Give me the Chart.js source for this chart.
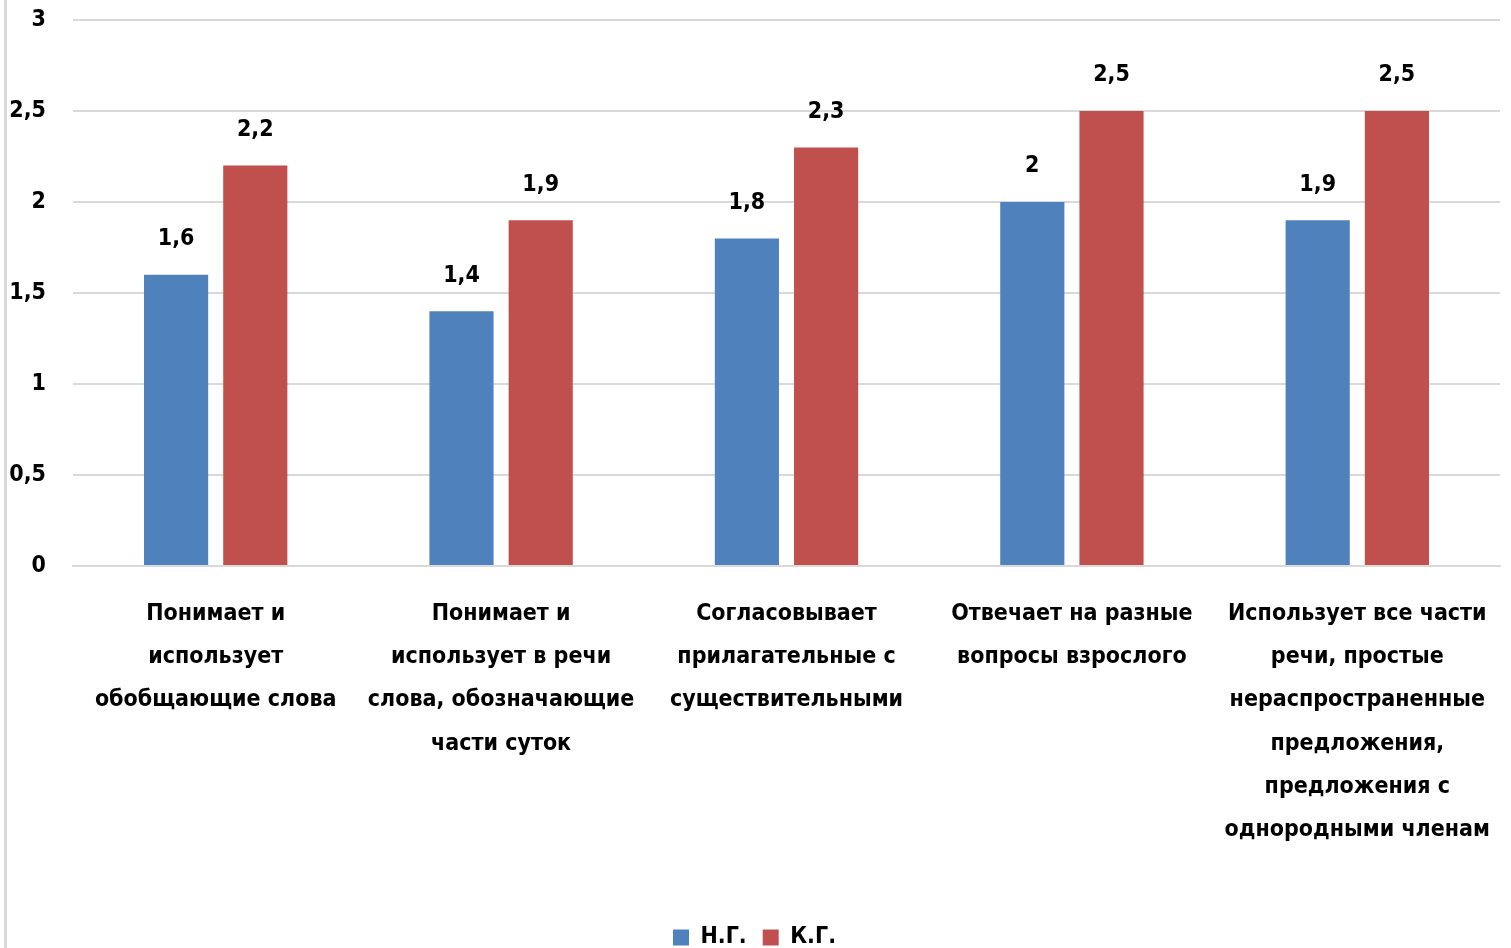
<!DOCTYPE html>
<html>
<head>
<meta charset="utf-8">
<script src="https://cdn.jsdelivr.net/npm/chart.js@4.4.1/dist/chart.umd.min.js"></script>
<style>
  html, body { margin: 0; padding: 0; background: #fff; }
  #wrap { position: relative; width: 1511px; height: 948px; }
  #edge { position: absolute; left: 4px; top: 0; width: 3px; height: 948px; background: #d9d9d9; }
</style>
</head>
<body>
<div id="wrap">
  <div id="edge"></div>
  <canvas id="chart" width="1511" height="948"></canvas>
</div>
<script>
const categories = [
  ['Понимает и', 'использует', 'обобщающие слова'],
  ['Понимает и', 'использует в речи', 'слова, обозначающие', 'части суток'],
  ['Согласовывает', 'прилагательные с', 'существительными'],
  ['Отвечает на разные', 'вопросы взрослого'],
  ['Использует все части', 'речи, простые', 'нераспространенные', 'предложения,', 'предложения с', 'однородными членам']
];
const seriesNames = ['Н.Г.', 'К.Г.'];
const ngValues = [1.6, 1.4, 1.8, 2, 1.9];
const kgValues = [2.2, 1.9, 2.3, 2.5, 2.5];
const yTicks = [0, 0.5, 1, 1.5, 2, 2.5, 3];

const FONT = '"Liberation Sans Narrow", "DejaVu Sans Condensed", "Open Sans", sans-serif';
const SIZE = 23;
const fmt = v => String(v).replace('.', ',');

// value labels above bars
const valueLabels = {
  id: 'valueLabels',
  afterDatasetsDraw(chart) {
    const ctx = chart.ctx;
    ctx.save();
    ctx.font = 'bold ' + SIZE + 'px ' + FONT;
    ctx.fillStyle = '#000';
    ctx.textAlign = 'center';
    ctx.textBaseline = 'bottom';
    chart.data.datasets.forEach((ds, i) => {
      chart.getDatasetMeta(i).data.forEach((bar, j) => {
        ctx.fillText(fmt(ds.data[j]), bar.x, bar.y - 24);
      });
    });
    ctx.restore();
  }
};

new Chart(document.getElementById('chart'), {
  type: 'bar',
  data: {
    labels: categories,
    datasets: [
      { label: seriesNames[0], data: ngValues, backgroundColor: '#4F81BD' },
      { label: seriesNames[1], data: kgValues, backgroundColor: '#C0504D' }
    ]
  },
  options: {
    responsive: false,
    animation: false,
    devicePixelRatio: 1,
    categoryPercentage: 0.555,
    barPercentage: 0.81,
    layout: { padding: { left: 9, right: 11, top: 20, bottom: -11 } },
    plugins: {
      legend: {
        position: 'bottom',
        labels: {
          color: '#000',
          font: { family: FONT, size: SIZE, weight: 'bold' },
          boxWidth: 16,
          boxHeight: 16,
          padding: 16
        }
      },
      tooltip: { enabled: false }
    },
    scales: {
      x: {
        grid: { display: false },
        border: { color: '#d9d9d9', width: 2 },
        afterFit: axis => { axis.paddingLeft = 0; axis.paddingRight = 0; axis.height = 344; },
        ticks: {
          color: '#000',
          font: { family: FONT, size: SIZE, weight: 'bold', lineHeight: 1.87 },
          padding: 19,
          maxRotation: 0,
          autoSkip: false
        }
      },
      y: {
        min: 0,
        max: 3,
        afterBuildTicks: axis => { axis.ticks = yTicks.map(v => ({ value: v })); },
        afterFit: axis => { axis.paddingTop = 14; axis.paddingBottom = 14; axis.width = 64; },
        grid: { color: '#d9d9d9', lineWidth: 2, drawTicks: false },
        border: { display: false },
        ticks: {
          color: '#000',
          font: { family: FONT, size: SIZE, weight: 'bold' },
          padding: 27,
          callback: v => fmt(v)
        }
      }
    }
  },
  plugins: [valueLabels]
});
</script>
</body>
</html>
